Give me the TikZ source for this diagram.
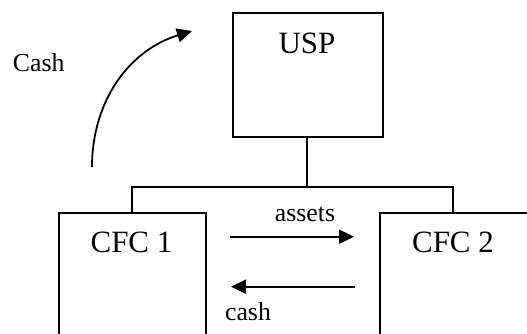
\documentclass[tikz,border=0pt]{standalone}
\usepackage{fontspec}
\setmainfont{Liberation Serif}
\usetikzlibrary{arrows.meta}
\begin{document}
\begin{tikzpicture}[x=1pt,y=1pt,
  box/.style={draw, line width=1.8pt, inner sep=0pt, anchor=north west},
  big/.style={font=\fontsize{31}{36}\selectfont, anchor=base, inner sep=0pt},
  small/.style={font=\fontsize{25.8}{30}\selectfont, anchor=base, inner sep=0pt},
  wire/.style={line width=1.8pt},
  flow/.style={line width=1.8pt, -{Triangle[length=15pt,width=14pt]}}]
\useasboundingbox (0,0) rectangle (527,333);
\fill[white] (0,0) rectangle (527,333);
% boxes
\node[box, minimum width=150pt, minimum height=124pt] (usp) at (232,321) {};
\node[box, minimum width=147pt, minimum height=135pt] (cfc1) at (58,121) {};
\node[box, minimum width=165pt, minimum height=135pt] (cfc2) at (379,121) {};
% box labels
\node[big] (usptext) at (307,280) {USP};
\node[big] (cfc1text) at (131.5,80.3) {CFC 1};
\node[big] (cfc2text) at (453,80.3) {CFC 2};
% tree connector
\coordinate (bus) at (307,146.3);
\coordinate (busl) at (132,146.3);
\coordinate (busr) at (453,146.3);
\draw[wire] (usp.south -| bus) -- (bus);
\draw[wire] (busl |- cfc1.north) -- (busl) -- (busr) -- (busr |- cfc2.north);
% flows between CFCs
\coordinate (a1) at (230,96.3);
\coordinate (a2) at (354,96.3);
\coordinate (c1) at (355,46.3);
\coordinate (c2) at (231,46.3);
\draw[flow] (a1) -- (a2);
\draw[flow] (c1) -- (c2);
\node[small] (assets) at (305,111.3) {assets};
\node[small] (cashlow) at (248,13) {cash};
% curved cash arrow
\coordinate (s) at (92,166);
\coordinate (t) at (192,302);
\draw[flow] (s) to[out=90,in=197] (t);
\node[small, anchor=base west] (cashtop) at (12.7,261.3) {Cash};
\end{tikzpicture}
\end{document}
